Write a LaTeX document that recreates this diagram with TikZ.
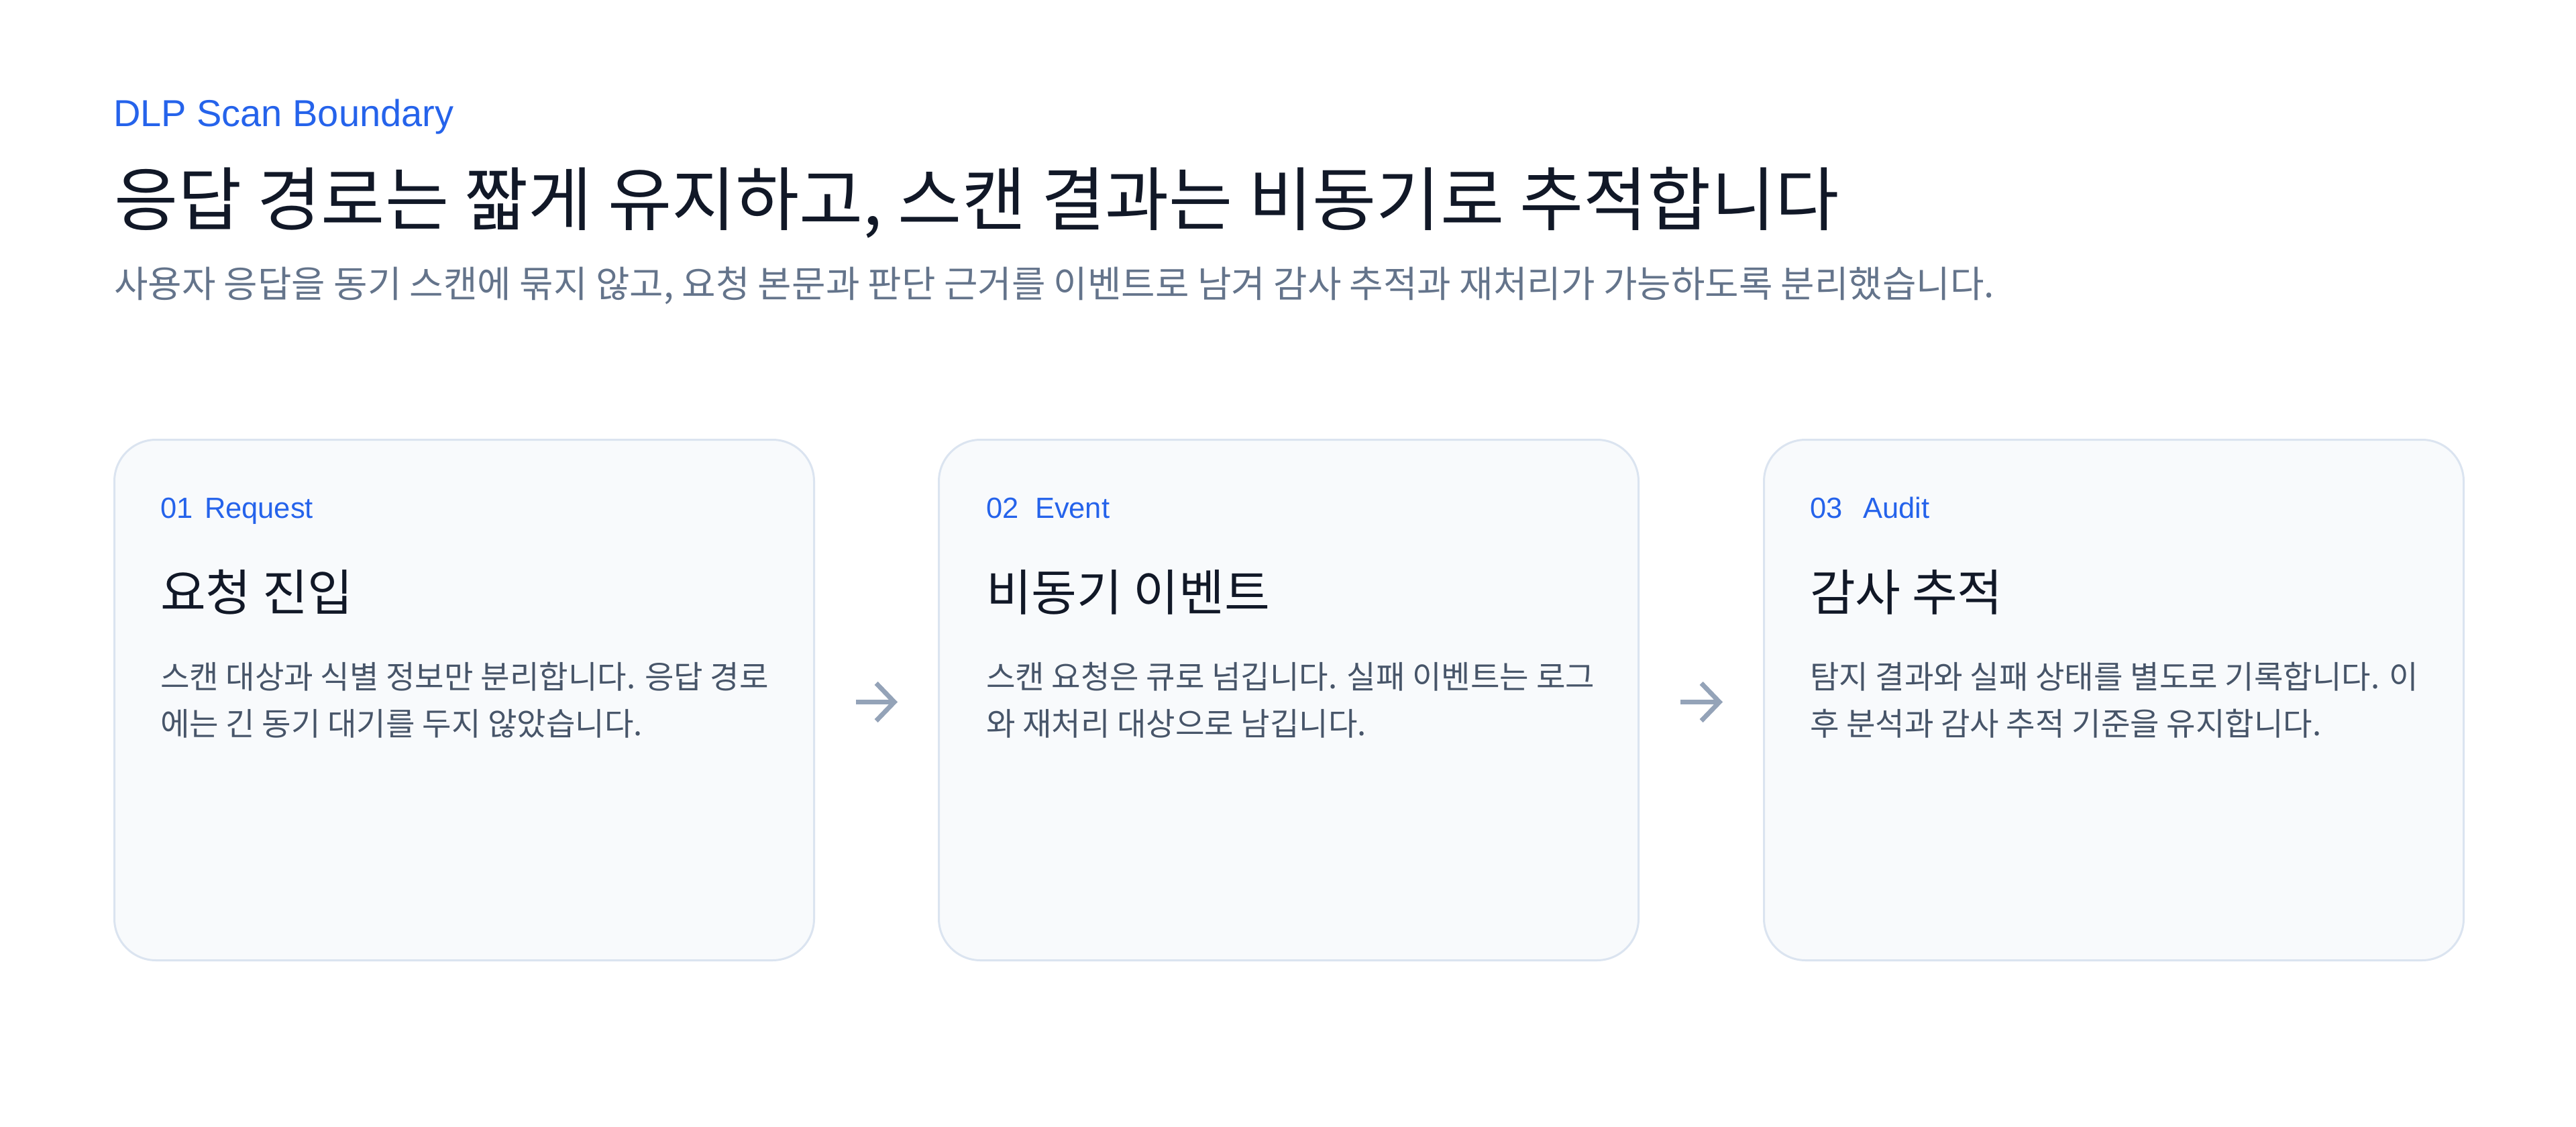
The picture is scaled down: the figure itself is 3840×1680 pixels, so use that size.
\documentclass[tikz,border=0pt]{standalone}
\usepackage{fontspec}
\setmainfont{Liberation Sans}
\newfontfamily\kr{Noto Sans CJK KR}
\usetikzlibrary{arrows.meta,calc}
\definecolor{accent}{HTML}{2563EB}
\definecolor{ink}{HTML}{111827}
\definecolor{muted}{HTML}{64748B}
\definecolor{bodyc}{HTML}{475569}
\definecolor{arrowc}{HTML}{94A3B8}
\definecolor{cardfill}{HTML}{F8FAFC}
\definecolor{cardline}{HTML}{DBE4F0}
\begin{document}
\begin{tikzpicture}[x=1pt,y=-1pt,
  txt/.style={anchor=base west, inner sep=0pt, outer sep=0pt},
  eyebrow/.style={txt, text=accent, font=\fontsize{56pt}{67pt}\selectfont},
  headline/.style={txt, text=ink, font=\kr\fontsize{103.5pt}{124pt}\selectfont},
  lede/.style={txt, text=muted, font=\kr\fontsize{54.9pt}{66pt}\selectfont},
  card/.style={draw=cardline, line width=3pt, fill=cardfill, rounded corners=62pt,
    minimum width=1043pt, minimum height=776pt, inner sep=0pt, anchor=north west},
  stepno/.style={txt, text=accent, font=\fontsize{43.5pt}{52pt}\selectfont},
  cardtitle/.style={txt, text=ink, font=\kr\fontsize{73.7pt}{88pt}\selectfont},
  cardbody/.style={txt, text=bodyc, font=\kr\fontsize{47.3pt}{70.5pt}\selectfont},
  flow/.style={draw=arrowc, line width=7pt, shorten <=61pt, shorten >=60pt,
    -{Straight Barb[length=27pt,width=56pt]}}
]
\fill[white] (0,0) rectangle (3840,1680);
\useasboundingbox (0,0) rectangle (3840,1680);

\node[eyebrow] (eyebrow) at (169,189) {DLP Scan Boundary};
\node[headline] (headline) at (170,335) {응답 경로는 짧게 유지하고, 스캔 결과는 비동기로 추적합니다};
\node[lede] (lede) at (170,443) {사용자 응답을 동기 스캔에 묶지 않고, 요청 본문과 판단 근거를 이벤트로 남겨 감사 추적과 재처리가 가능하도록 분리했습니다.};

\node[card] (c1) at (169,654) {};
\node[card] (c2) at (1398,654) {};
\node[card] (c3) at (2628,654) {};

% card 1
\node[stepno] (n1) at ($(c1.north west)+(70,118)$) {01};
\node[stepno] (w1) at ($(c1.north west)+(136,118)$) {Request};
\node[cardtitle] (t1) at ($(c1.north west)+(70,256)$) {요청 진입};
\node[cardbody] (b1a) at ($(c1.north west)+(70,372)$) {스캔 대상과 식별 정보만 분리합니다. 응답 경로};
\node[cardbody] (b1b) at ($(c1.north west)+(70,442.5)$) {에는 긴 동기 대기를 두지 않았습니다.};

% card 2
\node[stepno] (n2) at ($(c2.north west)+(72,118)$) {02};
\node[stepno] (w2) at ($(c2.north west)+(145,118)$) {Event};
\node[cardtitle] (t2) at ($(c2.north west)+(72,256)$) {비동기 이벤트};
\node[cardbody] (b2a) at ($(c2.north west)+(72,372)$) {스캔 요청은 큐로 넘깁니다. 실패 이벤트는 로그};
\node[cardbody] (b2b) at ($(c2.north west)+(72,442.5)$) {와 재처리 대상으로 남깁니다.};

% card 3
\node[stepno] (n3) at ($(c3.north west)+(70,118)$) {03};
\node[stepno] (w3) at ($(c3.north west)+(149,118)$) {Audit};
\node[cardtitle] (t3) at ($(c3.north west)+(70,256)$) {감사 추적};
\node[cardbody] (b3a) at ($(c3.north west)+(70,372)$) {탐지 결과와 실패 상태를 별도로 기록합니다. 이};
\node[cardbody] (b3b) at ($(c3.north west)+(70,442.5)$) {후 분석과 감사 추적 기준을 유지합니다.};

\draw[flow] ([yshift=-3pt]c1.east) -- ([yshift=-3pt]c2.west);
\draw[flow] ([yshift=-3pt]c2.east) -- ([yshift=-3pt]c3.west);
\end{tikzpicture}
\end{document}
